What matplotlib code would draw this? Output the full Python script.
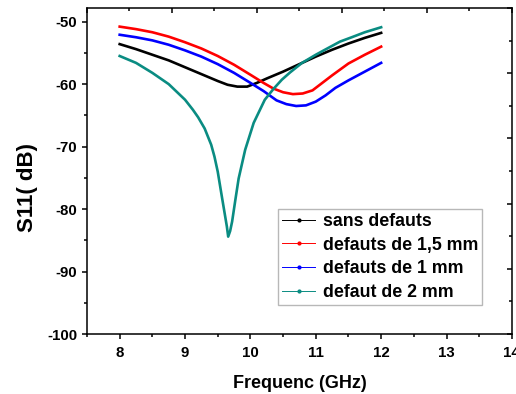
import matplotlib
matplotlib.use("Agg")
import matplotlib.pyplot as plt
from matplotlib.lines import Line2D
from matplotlib.ticker import MultipleLocator, NullFormatter

plt.rcParams["font.family"] = ["Liberation Sans", "DejaVu Sans"]
plt.rcParams["font.weight"] = "bold"
plt.rcParams["axes.unicode_minus"] = False

# Data (GHz, dB).
freq_sans = [8.0, 8.25, 8.5, 8.75, 9.0, 9.25, 9.5, 9.65, 9.8, 9.95, 10.1,
             10.25, 10.5, 10.75, 11.0, 11.25, 11.5, 11.75, 12.0]
s11_sans = [-53.6, -54.4, -55.3, -56.2, -57.3, -58.4, -59.5, -60.1, -60.4,
            -60.4, -59.8, -59.1, -58.0, -56.8, -55.6, -54.5, -53.5, -52.6,
            -51.8]

freq_1p5mm = [8.0, 8.25, 8.5, 8.75, 9.0, 9.25, 9.5, 9.75, 10.0, 10.2, 10.35,
              10.5, 10.65, 10.8, 10.95, 11.1, 11.25, 11.5, 11.75, 12.0]
s11_1p5mm = [-50.8, -51.2, -51.7, -52.4, -53.3, -54.3, -55.5, -56.9, -58.5,
             -59.8, -60.7, -61.3, -61.6, -61.5, -61.0, -59.8, -58.6, -56.7,
             -55.3, -54.0]

freq_1mm = [8.0, 8.25, 8.5, 8.75, 9.0, 9.25, 9.5, 9.75, 10.0, 10.2, 10.4,
            10.55, 10.7, 10.85, 11.0, 11.15, 11.3, 11.5, 11.75, 12.0]
s11_1mm = [-52.1, -52.5, -53.0, -53.7, -54.6, -55.6, -56.8, -58.2, -59.8,
           -61.1, -62.6, -63.2, -63.5, -63.4, -62.8, -61.8, -60.6, -59.4,
           -58.0, -56.6]

freq_2mm = [8.0, 8.25, 8.5, 8.75, 9.0, 9.12, 9.2, 9.3, 9.4, 9.45, 9.5,
            9.56, 9.6, 9.64, 9.66, 9.69, 9.72, 9.77, 9.82, 9.92, 10.05,
            10.22, 10.35, 10.48, 10.61, 10.79, 11.0, 11.14, 11.37, 11.55,
            11.75, 12.0]
s11_2mm = [-55.5, -56.6, -58.2, -60.0, -62.5, -64.1, -65.3, -67.1, -69.7,
           -71.6, -74.0, -77.8, -80.3, -82.8, -84.4, -83.5, -82.0, -78.5,
           -75.1, -70.5, -66.2, -62.5, -60.8, -59.3, -58.1, -56.6, -55.3,
           -54.5, -53.2, -52.5, -51.7, -50.9]

labels = ["sans defauts", "defauts de 1,5 mm", "defauts de 1 mm",
          "defaut de 2 mm"]
colors = ["black", "#ff0000", "#0000ff", "#0a8c82"]

fig = plt.figure(figsize=(5.16, 3.94), dpi=100)
pos = [0.1686, 0.152, 0.8234, 0.828]
ax = fig.add_axes(pos)

ax.plot(freq_sans, s11_sans, color=colors[0], lw=1.9)
ax.plot(freq_1p5mm, s11_1p5mm, color=colors[1], lw=1.9)
ax.plot(freq_1mm, s11_1mm, color=colors[2], lw=1.9)
ax.plot(freq_2mm, s11_2mm, color=colors[3], lw=1.9)

ax.set_xlim(7.5, 14)
ax.set_ylim(-100, -47.8)
ax.xaxis.set_major_locator(MultipleLocator(1))
ax.xaxis.set_minor_locator(MultipleLocator(0.5))
ax.yaxis.set_major_locator(MultipleLocator(10))
ax.yaxis.set_minor_locator(MultipleLocator(5))
ax.tick_params(which="both", direction="out", width=1.1, labelsize=10.8,
               top=False, right=False)
ax.tick_params(which="major", length=3.8)
ax.tick_params(which="minor", length=2.3)
ax.tick_params(axis="x", which="major", pad=4.5)
ax.tick_params(axis="y", which="major", pad=3.2)
for lab in ax.get_xticklabels() + ax.get_yticklabels():
    lab.set_fontweight("bold")
for sp in ax.spines.values():
    sp.set_linewidth(1.1)

ax.set_xlabel("Frequenc (GHz)", fontsize=13, fontweight="bold", labelpad=11)
ax.set_ylabel("S11( dB)", fontsize=16, fontweight="bold")
ax.yaxis.set_label_coords(-0.115, 0.45)

# Top and right axes carry their own inward ticks (5 divisions each).
frame = fig.add_axes(pos, frameon=False)
frame.set_xlim(0, 10)
frame.set_ylim(0, 10)
frame.xaxis.set_major_locator(MultipleLocator(2))
frame.xaxis.set_minor_locator(MultipleLocator(1))
frame.yaxis.set_major_locator(MultipleLocator(2))
frame.yaxis.set_minor_locator(MultipleLocator(1))
frame.tick_params(which="both", direction="in", width=1.1, top=True,
                  right=True, bottom=False, left=False, labeltop=False,
                  labelright=False, labelbottom=False, labelleft=False)
frame.tick_params(which="major", length=3.8)
frame.tick_params(which="minor", length=2.3)
frame.xaxis.set_major_formatter(NullFormatter())
frame.yaxis.set_major_formatter(NullFormatter())

handles = [Line2D([], [], color=c, lw=0.7, marker="o", markersize=2)
           for c in colors]
leg = frame.legend(handles, labels, loc="lower left",
                   bbox_to_anchor=(0.449, 0.089), borderaxespad=0,
                   fancybox=False, framealpha=1, edgecolor="#b8b8b8",
                   prop={"size": 12.8, "weight": "bold"}, handlelength=1.9,
                   handletextpad=0.4, labelspacing=0.38, borderpad=0.22)
leg.get_frame().set_linewidth(1.0)

fig.savefig("out.png", dpi=100)
